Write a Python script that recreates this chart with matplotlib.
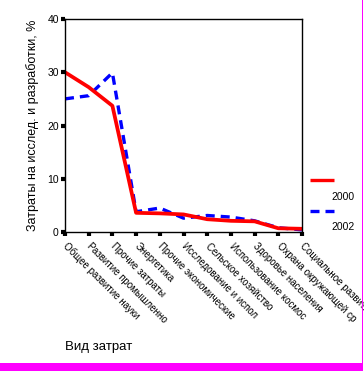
import matplotlib
matplotlib.use("Agg")
import matplotlib.pyplot as plt
from matplotlib.lines import Line2D
from matplotlib.patches import Rectangle

categories = [
    "Общее развитие науки",
    "Развитие промышленно",
    "Прочие затраты",
    "Энергетика",
    "Прочие экономические",
    "Исследование и испол",
    "Сельское хозяйство",
    "Использование космос",
    "Здоровье населения",
    "Охрана окружающей ср",
    "Социальное развитие",
]
series_names = ["2000", "2002"]
values_2000 = [30.0, 27.2, 23.7, 3.6, 3.5, 3.3, 2.4, 2.1, 2.0, 0.7, 0.6]
values_2002 = [25.0, 25.6, 29.9, 3.8, 4.5, 2.6, 3.1, 2.8, 2.1, 0.8, 0.4]
yticks = [0, 10, 20, 30, 40]

plt.rcParams['font.family'] = ['Liberation Sans', 'DejaVu Sans']

W, H = 364, 371
fig = plt.figure(figsize=(W / 100, H / 100), dpi=100)
ax = fig.add_axes([65 / W, 1 - 232 / H, (302 - 65) / W, (232 - 19) / H])

x = list(range(len(categories)))
lw = 2.4
ax.plot(x, values_2002, color='#0000ff', lw=lw, dashes=(2.7, 1.8), solid_capstyle='butt')
ax.plot(x, values_2000, color='#ff0000', lw=lw + 0.3, solid_joinstyle='round')

ax.set_xlim(0, len(categories) - 1)
ax.set_ylim(0, 40)
ax.set_yticks(yticks)
ax.set_yticklabels([str(v) for v in yticks], fontsize=7.5)
ax.set_xticks(x)
ax.set_xticklabels(categories, rotation=-45, ha='left', va='center',
                   rotation_mode='anchor', fontsize=7)
ax.tick_params(axis='x', direction='out', length=3, width=3, color='black', pad=6)
ax.tick_params(axis='y', direction='out', length=3, width=3, color='black', pad=1.5)
for s in ax.spines.values():
    s.set_linewidth(1.0)
    s.set_color('black')

ax.set_ylabel("Затраты на исслед. и разработки, %", fontsize=9, labelpad=6)
fig.text(65 / W, 1 - 347 / H, "Вид затрат", fontsize=9.5, ha='left', va='center')

# legend
fig.add_artist(Line2D([310 / W, 334 / W], [1 - 180 / H] * 2, color='#ff0000', lw=lw,
                      transform=fig.transFigure, solid_capstyle='butt'))
fig.text(331 / W, 1 - 197 / H, series_names[0], fontsize=7.5, ha='left', va='center')
fig.add_artist(Line2D([310 / W, 334 / W], [1 - 211 / H] * 2, color='#0000ff', lw=lw,
                      dashes=(2.7, 1.8), transform=fig.transFigure, solid_capstyle='butt',
                      dash_capstyle='butt'))
fig.text(331 / W, 1 - 227 / H, series_names[1], fontsize=7.5, ha='left', va='center')

# magenta frame
fig.add_artist(Rectangle((0, 0), 363 / W, 8 / H, transform=fig.transFigure,
                         color='#ff00ff', lw=0))
fig.add_artist(Rectangle((362 / W, 0), 1.3 / W, 1, transform=fig.transFigure,
                         color='#ff00ff', lw=0))

fig.savefig("out.png", dpi=100)
